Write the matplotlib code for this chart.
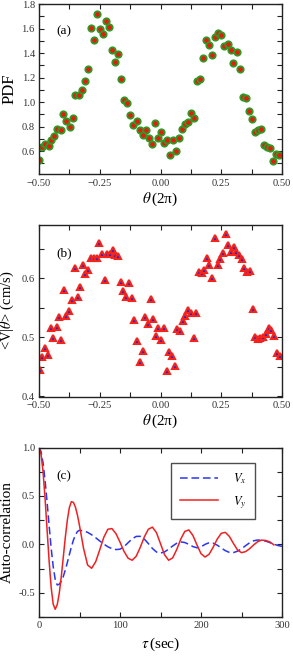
import numpy as np
import matplotlib
matplotlib.use("Agg")
import matplotlib.pyplot as plt
from matplotlib.ticker import MultipleLocator, FixedLocator, FixedFormatter

plt.rcParams['font.family'] = ['Liberation Serif', 'DejaVu Serif']
plt.rcParams['mathtext.fontset'] = 'stix'

# ---- panel (a): PDF of theta ----
theta_a = [-0.499, -0.486, -0.474, -0.460, -0.449, -0.437, -0.425, -0.411, -0.400, -0.388,
           -0.374, -0.361, -0.350, -0.337, -0.324, -0.311, -0.298, -0.286, -0.274, -0.261,
           -0.249, -0.235, -0.224, -0.212, -0.200, -0.186, -0.174, -0.161, -0.149, -0.136,
           -0.124, -0.112, -0.098, -0.086, -0.073, -0.061, -0.049, -0.036, -0.024, -0.012,
           0.002, 0.013, 0.025, 0.039, 0.050, 0.062, 0.076, 0.088, 0.101, 0.113,
           0.126, 0.138, 0.150, 0.163, 0.175, 0.187, 0.201, 0.213, 0.226, 0.238,
           0.250, 0.263, 0.276, 0.289, 0.300, 0.313, 0.326, 0.338, 0.350, 0.363,
           0.377, 0.388, 0.401, 0.412, 0.425, 0.437, 0.451, 0.462, 0.475, 0.488]
pdf = [0.527, 0.633, 0.657, 0.646, 0.690, 0.725, 0.785, 0.776, 0.904, 0.844,
       0.798, 0.869, 1.056, 1.056, 1.102, 1.173, 1.271, 1.602, 1.507, 1.721,
       1.597, 1.553, 1.664, 1.610, 1.425, 1.330, 1.396, 1.189, 1.018, 0.991,
       0.893, 0.812, 0.844, 0.776, 0.730, 0.776, 0.709, 0.657, 0.828, 0.709,
       0.755, 0.665, 0.695, 0.567, 0.695, 0.603, 0.709, 0.785, 0.820, 0.834,
       0.912, 0.869, 1.176, 1.189, 1.360, 1.504, 1.463, 1.385, 1.534, 1.564,
       1.550, 1.461, 1.477, 1.423, 1.322, 1.409, 1.271, 1.040, 1.037, 0.929,
       0.863, 0.755, 0.774, 0.779, 0.649, 0.638, 0.622, 0.519, 0.581, 0.567]

# ---- panel (b): conditional mean speed ----
theta_b = [-0.496, -0.486, -0.474, -0.462, -0.451, -0.441, -0.427, -0.419, -0.408, -0.396,
           -0.388, -0.375, -0.364, -0.353, -0.340, -0.330, -0.319, -0.309, -0.297, -0.287,
           -0.275, -0.263, -0.253, -0.241, -0.230, -0.219, -0.206, -0.197, -0.187, -0.174,
           -0.163, -0.153, -0.143, -0.130, -0.119, -0.108, -0.098, -0.084, -0.073, -0.064,
           -0.053, -0.040, -0.029, -0.020, -0.009, 0.003, 0.016, 0.025, 0.036, 0.047,
           0.058, 0.068, 0.080, 0.091, 0.102, 0.115, 0.126, 0.138, 0.147, 0.160,
           0.171, 0.180, 0.191, 0.201, 0.213, 0.226, 0.237, 0.245, 0.258, 0.270,
           0.279, 0.290, 0.302, 0.312, 0.323, 0.334, 0.345, 0.356, 0.367, 0.379,
           0.389, 0.400, 0.411, 0.423, 0.434, 0.445, 0.456, 0.467, 0.478, 0.490]
v_mean = [0.444, 0.466, 0.482, 0.470, 0.515, 0.499, 0.517, 0.535, 0.496, 0.580,
          0.536, 0.545, 0.563, 0.617, 0.568, 0.586, 0.622, 0.607, 0.614, 0.635,
          0.635, 0.635, 0.660, 0.641, 0.597, 0.641, 0.641, 0.648, 0.639, 0.638,
          0.593, 0.579, 0.568, 0.592, 0.566, 0.530, 0.494, 0.459, 0.477, 0.534,
          0.523, 0.565, 0.531, 0.503, 0.515, 0.496, 0.515, 0.443, 0.475, 0.469,
          0.451, 0.514, 0.510, 0.527, 0.536, 0.546, 0.542, 0.499, 0.541, 0.610,
          0.608, 0.614, 0.635, 0.623, 0.600, 0.668, 0.623, 0.632, 0.643, 0.674,
          0.657, 0.644, 0.652, 0.645, 0.639, 0.632, 0.617, 0.611, 0.612, 0.548,
          0.501, 0.497, 0.499, 0.500, 0.506, 0.515, 0.513, 0.503, 0.474, 0.469]

# ---- panel (c): velocity auto-correlation ----
tau_y = [0, 2.5, 5, 7.5, 10, 12.5, 15, 17.5, 20, 22.5, 25, 27.5, 30, 32.5, 35, 37.5, 40,
         42.5, 45, 47.5, 50, 55, 60, 65, 70, 75, 80, 85, 90, 95, 100, 105, 110, 115,
         120, 125, 130, 135, 140, 145, 150, 155, 160, 165, 170, 175, 180, 185, 190,
         195, 200, 205, 210, 215, 220, 225, 230, 235, 240, 245, 250, 255, 260, 265,
         270, 275, 280, 285, 290]
acf_vy = [1.0, 0.935, 0.749, 0.473, 0.148, -0.173, -0.442, -0.617, -0.670, -0.623,
          -0.506, -0.334, -0.132, 0.074, 0.252, 0.381, 0.441, 0.433, 0.384, 0.301,
          0.194, -0.041, -0.213, -0.247, -0.179, -0.056, 0.073, 0.156, 0.163, 0.111,
          0.023, -0.073, -0.143, -0.164, -0.123, -0.031, 0.076, 0.156, 0.178, 0.121,
          0.007, -0.107, -0.164, -0.140, -0.054, 0.054, 0.134, 0.149, 0.092, -0.006,
          -0.096, -0.131, -0.102, -0.030, 0.054, 0.114, 0.124, 0.082, 0.010, -0.057,
          -0.086, -0.075, -0.045, -0.006, 0.028, 0.044, 0.040, 0.025, -0.005]
tau_x = tau_y + [295, 300]
acf_vx = [1.0, 0.959, 0.841, 0.659, 0.434, 0.193, -0.037, -0.228, -0.362, -0.419,
          -0.412, -0.382, -0.332, -0.264, -0.187, -0.105, -0.026, 0.044, 0.098, 0.133,
          0.145, 0.139, 0.124, 0.099, 0.068, 0.035, 0.003, -0.025, -0.044, -0.054,
          -0.050, -0.024, 0.017, 0.057, 0.082, 0.083, 0.055, 0.008, -0.042, -0.079,
          -0.090, -0.078, -0.050, -0.017, 0.011, 0.025, 0.019, 0.000, -0.023, -0.035,
          -0.026, 0.000, 0.017, 0.012, -0.008, -0.037, -0.065, -0.083, -0.085, -0.071,
          -0.046, -0.014, 0.016, 0.037, 0.045, 0.042, 0.033, 0.018, 0.002, -0.012, -0.020]

W, H = 293, 663
fig = plt.figure(figsize=(W / 100, H / 100), dpi=100)


def add_axes(top, bottom, left=39, right=282):
    return fig.add_axes([left / W, 1 - bottom / H, (right - left) / W, (bottom - top) / H])


def style(ax):
    for s in ax.spines.values():
        s.set_linewidth(1.0)
        s.set_color('#222222')
    ax.tick_params(which='both', direction='in', top=True, right=True,
                   length=3.5, width=0.8, color='#222222', labelsize=7.6,
                   labelcolor='#333333', pad=3)


def theta_axis(ax):
    ax.set_xlim(-0.5, 0.5)
    ax.xaxis.set_major_locator(FixedLocator([-0.5, -0.25, 0.0, 0.25, 0.5]))
    ax.xaxis.set_major_formatter(FixedFormatter(['\u22120.50', '\u22120.25', '0.00', '0.25', '0.50']))
    ax.xaxis.set_minor_locator(MultipleLocator(0.125))
    ax.set_xlabel(r'$\theta\,$(2π)', fontsize=11, labelpad=2)


# (a)
ax1 = add_axes(4, 174.5)
style(ax1)
ax1.plot(theta_a, pdf, 'o', ls='none', ms=4.6, mfc='#e81a10', mec='#2f9a25', mew=1.3)
theta_axis(ax1)
ax1.set_ylim(0.41, 1.8)
ax1.yaxis.set_major_locator(MultipleLocator(0.2))
ax1.yaxis.set_minor_locator(MultipleLocator(0.1))
ax1.yaxis.set_major_formatter(plt.FormatStrFormatter('%.1f'))
ax1.set_ylabel('PDF', fontsize=12, labelpad=3)
ax1.text(0.07, 0.84, '(a)', transform=ax1.transAxes, fontsize=9.5, va='center')

# (b)
ax2 = add_axes(225, 396.5)
style(ax2)
ax2.plot(theta_b, v_mean, '^', ls='none', ms=4.6, mfc='#2b25c8', mec='#f4241c', mew=1.5)
theta_axis(ax2)
ax2.set_ylim(0.4, 0.69)
ax2.yaxis.set_major_locator(MultipleLocator(0.1))
ax2.yaxis.set_minor_locator(MultipleLocator(0.05))
ax2.yaxis.set_major_formatter(plt.FormatStrFormatter('%.1f'))
ax2.set_ylabel(r'<V|$\theta$> (cm/s)', fontsize=10.5, labelpad=4)
ax2.text(0.07, 0.837, '(b)', transform=ax2.transAxes, fontsize=9.5, va='center')

# (c)
ax3 = add_axes(447.5, 617)
style(ax3)
ax3.plot(tau_x, acf_vx, color='#2a35f0', lw=1.1, ls=(0, (5, 2.5)), label=r'$V_x$')
ax3.plot(tau_y, acf_vy, color='#f02020', lw=1.1, label=r'$V_y$')
ax3.set_xlim(0, 300)
ax3.set_ylim(-0.75, 1.0)
ax3.xaxis.set_major_locator(MultipleLocator(100))
ax3.xaxis.set_minor_locator(MultipleLocator(50))
ax3.yaxis.set_major_locator(MultipleLocator(0.5))
ax3.yaxis.set_minor_locator(MultipleLocator(0.25))
ax3.yaxis.set_major_formatter(plt.FormatStrFormatter('%.1f'))
ax3.set_xlabel(r'$\tau\,$(sec)', fontsize=11, labelpad=4)
ax3.set_ylabel('Auto-correlation', fontsize=11, labelpad=3)
ax3.text(0.07, 0.829, '(c)', transform=ax3.transAxes, fontsize=9.5, va='center')
leg = ax3.legend(loc='upper right', bbox_to_anchor=(0.889, 0.91), borderaxespad=0,
                 fancybox=False, edgecolor='#222222', fontsize=9, handlelength=3.0,
                 markerfirst=True, borderpad=0.7, labelspacing=0.6, handletextpad=1.2)
leg.get_frame().set_linewidth(1.0)

fig.savefig('out.png', dpi=100)
